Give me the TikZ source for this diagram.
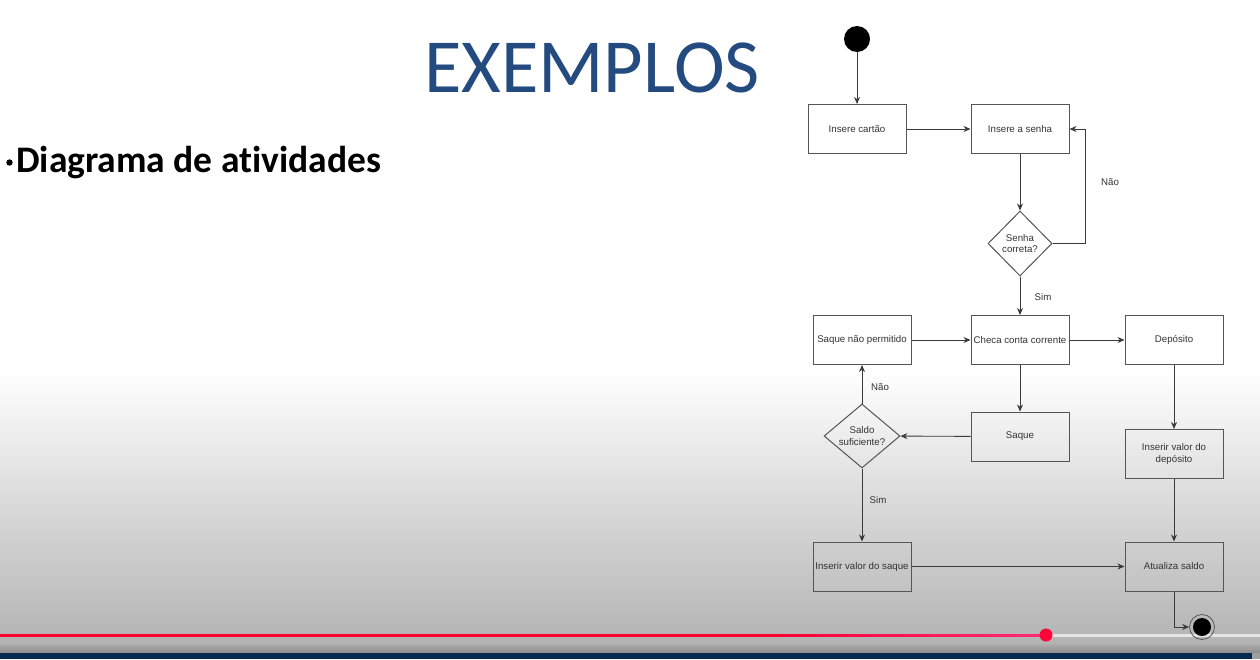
\documentclass[tikz,border=0pt]{standalone}
\usepackage{fontspec}
\setmainfont{Carlito}[Ligatures=NoCommon]
\newfontfamily\arialf{Liberation Sans}
\usetikzlibrary{shapes.geometric,arrows.meta}
\definecolor{titleblue}{HTML}{244B80}
\definecolor{lineg}{HTML}{3A3A3A}
\definecolor{boxg}{HTML}{555555}
\definecolor{txtg}{HTML}{333333}
\definecolor{ytred}{HTML}{FF0033}
\definecolor{ytpink}{HTML}{FF2C78}
\definecolor{navy}{HTML}{042A50}
\tikzset{
  actbox/.style={draw=boxg, line width=1pt, minimum width=98pt, minimum height=49pt, inner sep=1pt,
    font=\arialf\fontsize{9.7}{11.5}\selectfont, text=txtg, align=center},
  decbox/.style={diamond, draw=boxg, line width=1pt, inner sep=0pt},
  dectext/.style={font=\arialf\fontsize{9.7}{11.5}\selectfont, text=txtg, align=center},
  conn/.style={draw=lineg, line width=0.9pt, -{Stealth[length=7pt,width=6pt]}},
  edgelbl/.style={font=\arialf\fontsize{9.7}{11.5}\selectfont, text=txtg},
}
\begin{document}
\begin{tikzpicture}[x=1pt,y=-1pt]
\useasboundingbox (0,0) rectangle (1260,659);
% background
\fill[white] (0,0) rectangle (1260,372);
\shade[top color=white, bottom color=black!30] (0,371) rectangle (1260,645);
\shade[top color=black!32, bottom color=black!45] (0,644) rectangle (1260,653);
\fill[navy] (0,652.5) rectangle (1252,659);
\fill[black!38] (1252,652.5) rectangle (1260,659);
% progress bar
\fill[ytred] (0,633.5) rectangle (760,636.5);
\foreach \i in {0,...,9}{
  \pgfmathsetmacro{\mix}{100-\i*10}
  \fill[ytred!\mix!ytpink] ({760+\i*28.6},633.5) rectangle ({760+(\i+1)*28.6+0.5},636.5);
}
\fill[black!10] (1046,633.5) rectangle (1260,636.5);
\fill[ytred!92!ytpink] (1046,635) circle (6.5pt);
% title and bullet
\node[anchor=base west, inner sep=0pt, font=\fontsize{76.5}{80}\selectfont, text=titleblue] (title) at (424,92) {EXEMPLOS};
\fill[black] (9.5,162.5) circle (3.2pt);
\node[anchor=base west, inner sep=0pt, font=\bfseries\fontsize{37.5}{40}\selectfont] (bullet) at (16,172) {Diagrama de atividades};
% nodes
\node[circle, fill=black, minimum size=26pt, inner sep=0pt] (start) at (857,39) {};
\node[actbox] (cartao) at (857,129) {Insere cartão};
\node[actbox] (senha) at (1020,129) {Insere a senha};
\node[decbox, minimum width=64pt, minimum height=65pt,
  label={[dectext]center:Senha\\correta?}] (senhaok) at (1020,243.5) {};
\node[actbox] (naoperm) at (862,340) {Saque não permitido};
\node[actbox] (checa) at (1020,340) {Checa conta corrente};
\node[actbox] (deposito) at (1174,340) {Depósito};
\node[actbox] (saque) at (1020,436.5) {Saque};
\node[decbox, minimum width=76pt, minimum height=64pt,
  label={[dectext]center:Saldo\\suficiente?}] (saldo) at (862,436) {};
\node[actbox] (valdep) at (1174,454) {Inserir valor do\\depósito};
\node[actbox] (valsaque) at (862,566.5) {Inserir valor do saque};
\node[actbox] (atualiza) at (1174,566.5) {Atualiza saldo};
\node[circle, draw=black!70, line width=0.7pt, minimum size=25pt, inner sep=0pt] (fim) at (1202,627) {};
\node[circle, fill=black, minimum size=18pt, inner sep=0pt] (fimin) at (fim.center) {};
% connectors
\draw[conn] (start) -- (cartao);
\draw[conn] (cartao) -- (senha);
\draw[conn] (senha) -- (senhaok);
\draw[conn] (senhaok.east) -- ++(33,0) |- (senha.east);
\draw[conn] (senhaok) -- (checa);
\draw[conn] (naoperm) -- (checa);
\draw[conn] (checa) -- (deposito);
\draw[conn] (checa) -- (saque);
\draw[conn] (saque) -- (saldo);
\draw[conn] (saldo) -- (naoperm);
\draw[conn] (saldo) -- (valsaque);
\draw[conn] (valsaque) -- (atualiza);
\draw[conn] (deposito) -- (valdep);
\draw[conn] (valdep) -- (atualiza);
\draw[conn] (atualiza.south) |- (fim);
% edge labels
\node[edgelbl] (l1) at (1110,182) {Não};
\node[edgelbl] (l2) at (1043,297) {Sim};
\node[edgelbl] (l3) at (880,387) {Não};
\node[edgelbl] (l4) at (878,500) {Sim};
\end{tikzpicture}
\end{document}
